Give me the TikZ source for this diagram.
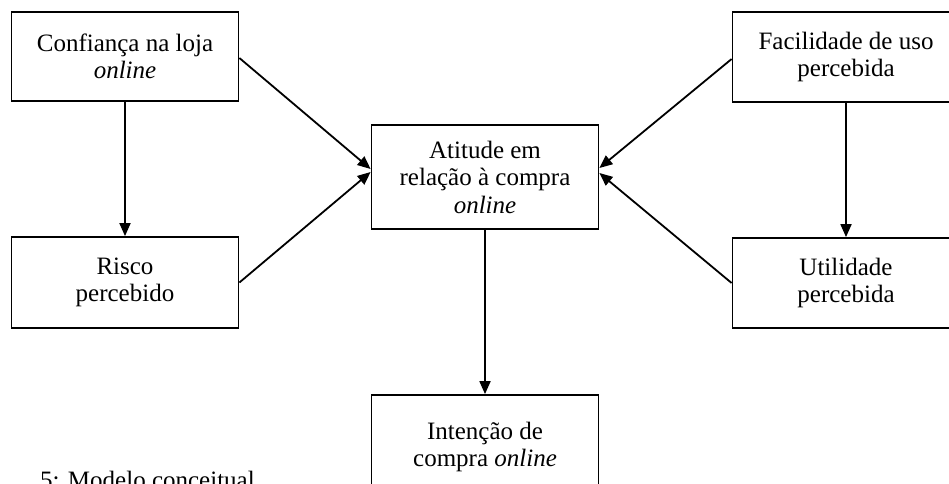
\documentclass[tikz,border=0pt]{standalone}
\usepackage{fontspec}
\setmainfont{Liberation Serif}
\usetikzlibrary{arrows.meta}
\tikzset{
  box/.style={draw=black, line width=1.8pt, fill=white, minimum width=227pt, inner sep=0pt, align=center,
     font=\fontsize{25pt}{27.5pt}\selectfont},
  conn/.style={line width=1.8pt, -{Triangle[length=13pt,width=11pt]}},
}
\begin{document}
\begin{tikzpicture}[x=1pt,y=-1pt]
\clip (0,0) rectangle (949,483);
\fill[white] (0,0) rectangle (949,483);
\node[box, minimum height=89pt] (conf) at (125,56.5) {Confiança na loja\\\textit{online}};
\node[box, minimum height=91pt] (risco) at (125,282.5) {Risco\\percebido};
\node[box, minimum height=104pt] (atit) at (485,177) {Atitude em\\relação à compra\\\textit{online}};
\node[box, minimum height=90pt] (facil) at (846,57) {Facilidade de uso\\percebida};
\node[box, minimum height=90pt] (util) at (846,283) {Utilidade\\percebida};
\node[box, minimum height=104pt] (inten) at (485,447) {Intenção de\\compra \textit{online}};
\draw[conn] (conf.south) -- (risco.north);
\draw[conn] (facil.south) -- (util.north);
\draw[conn] (atit.south) -- (inten.north);
\draw[conn] ([yshift=-1.5pt]conf.east) -- ([yshift=8pt]atit.west);
\draw[conn] (risco.east) -- ([yshift=5pt]atit.west);
\draw[conn] ([yshift=-2pt]facil.west) -- ([yshift=9pt]atit.east);
\draw[conn] (util.west) -- ([yshift=4pt]atit.east);
\node[anchor=base west, inner sep=0pt, font=\fontsize{25pt}{27.5pt}\selectfont] (cap) at (40,488.5) {5: Modelo conceitual};
\end{tikzpicture}
\end{document}
